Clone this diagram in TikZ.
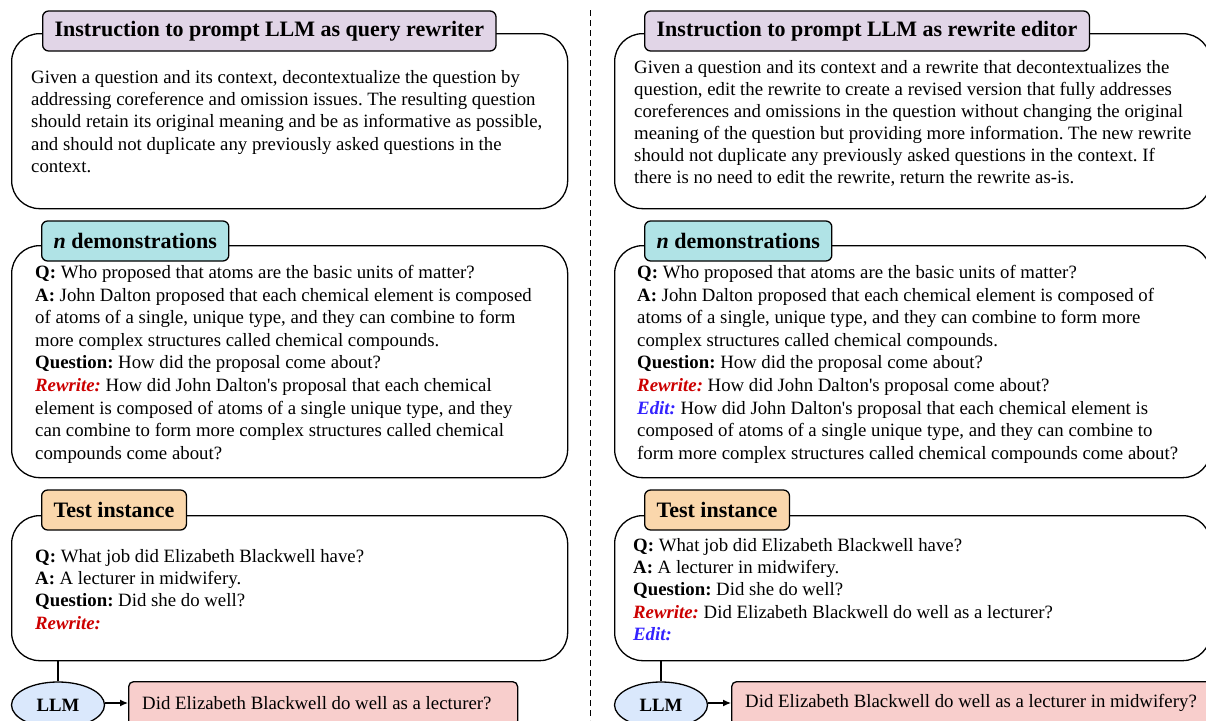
\documentclass[tikz,border=0pt]{standalone}
\usepackage{fontspec}
\setmainfont{Liberation Serif}
\usetikzlibrary{arrows.meta,shapes.geometric}
\definecolor{tablav}{HTML}{E1D5E7}
\definecolor{tabteal}{HTML}{B0E3E6}
\definecolor{taborange}{HTML}{FAD7AC}
\definecolor{llmblue}{HTML}{DAE8FC}
\definecolor{outpink}{HTML}{F8CECC}
\definecolor{rwred}{HTML}{CC0000}
\definecolor{edblue}{HTML}{3322FF}
\newcommand{\rw}{\textcolor{rwred}{\textbf{\textit{Rewrite:}}}}
\newcommand{\ed}{\textcolor{edblue}{\textbf{\textit{Edit:}}}}
\newcommand{\ap}{\textquotesingle}
\frenchspacing
\tikzset{
  panel/.style={draw, line width=1.3pt, rounded corners=28pt, inner sep=0pt, anchor=north west, fill=white},
  tab/.style={draw, line width=1.3pt, rounded corners=6pt, font=\fontsize{22}{26}\selectfont\bfseries, minimum height=40pt, inner xsep=12pt, anchor=west},
  body/.style={anchor=north west, inner sep=0pt, align=left, font=\fontsize{18.8}{22.3}\selectfont},
  bodywide/.style={body, font=\fontsize{18.8}{22.6}\selectfont},
  bodytight/.style={body, font=\fontsize{18.8}{22}\selectfont},
  llm/.style={ellipse, draw, line width=1.3pt, fill=llmblue, minimum width=93pt, minimum height=46pt, inner sep=0pt, font=\fontsize{18.8}{22}\selectfont\bfseries},
  outbox/.style={draw, line width=1.3pt, rounded corners=5pt, fill=outpink, anchor=north west, inner sep=0pt},
  outtext/.style={anchor=west, inner sep=0pt, font=\fontsize{18.8}{22}\selectfont},
  conn/.style={line width=1.3pt},
}
\begin{document}
\begin{tikzpicture}[x=1pt,y=-1pt]
\clip (0,0) rectangle (1206,720);
\fill[white] (0,0) rectangle (1206,720);
% divider
\coordinate (dtop) at (590,10);
\coordinate (dbot) at (590,720);
\draw[line width=1pt, dash pattern=on 6pt off 4pt] (dtop) -- (dbot);

% ===== LEFT =====
\node[panel, minimum width=556pt, minimum height=175pt] (L1) at (11,33) {};
\node[tab, fill=tablav] (L1t) at (42,31) {Instruction to prompt LLM as query rewriter};
\node[body] (L1b) at (31,70) {Given a question and its context, decontextualize the question by\\
addressing coreference and omission issues. The resulting question\\
should retain its original meaning and be as informative as possible,\\
and should not duplicate any previously asked questions in the\\
context.};

\node[panel, minimum width=556pt, minimum height=232pt] (L2) at (11,245) {};
\node[tab, fill=tabteal] (L2t) at (41,241) {\textit{n} demonstrations};
\node[bodywide] (L2b) at (35,265) {\textbf{Q:} Who proposed that atoms are the basic units of matter?\\
\textbf{A:} John Dalton proposed that each chemical element is composed\\
of atoms of a single, unique type, and they can combine to form\\
more complex structures called chemical compounds.\\
\textbf{Question:} How did the proposal come about?\\
\rw{} How did John Dalton\ap s proposal that each chemical\\
element is composed of atoms of a single unique type, and they\\
can combine to form more complex structures called chemical\\
compounds come about?};

\node[panel, minimum width=556pt, minimum height=145pt] (L3) at (11,515) {};
\node[tab, fill=taborange] (L3t) at (41,510) {Test instance};
\node[body] (L3b) at (35,549) {\textbf{Q:} What job did Elizabeth Blackwell have?\\
\textbf{A:} A lecturer in midwifery.\\
\textbf{Question:} Did she do well?\\
\rw{}};

\node[llm] (Lllm) at (58,705) {LLM};
\node[outbox, minimum width=389pt, minimum height=44pt] (Lout) at (128,681) {};
\node[outtext] (Louttext) at (142,703) {Did Elizabeth Blackwell do well as a lecturer?};
\draw[conn] (L3.south -| Lllm.north) -- (Lllm.north);
\draw[conn, -{Latex[length=8pt,width=7pt]}] (Lllm.east |- Louttext.west) -- (Lout.west |- Louttext.west);

% ===== RIGHT =====
\node[panel, minimum width=596pt, minimum height=175pt] (R1) at (614,33) {};
\node[tab, fill=tablav] (R1t) at (644,31) {Instruction to prompt LLM as rewrite editor};
\node[bodytight] (R1b) at (634,60) {Given a question and its context and a rewrite that decontextualizes the\\
question, edit the rewrite to create a revised version that fully addresses\\
coreferences and omissions in the question without changing the original\\
meaning of the question but providing more information. The new rewrite\\
should not duplicate any previously asked questions in the context. If\\
there is no need to edit the rewrite, return the rewrite as-is.};

\node[panel, minimum width=596pt, minimum height=232pt] (R2) at (614,245) {};
\node[tab, fill=tabteal] (R2t) at (644,241) {\textit{n} demonstrations};
\node[bodywide] (R2b) at (637,265) {\textbf{Q:} Who proposed that atoms are the basic units of matter?\\
\textbf{A:} John Dalton proposed that each chemical element is composed of\\
atoms of a single, unique type, and they can combine to form more\\
complex structures called chemical compounds.\\
\textbf{Question:} How did the proposal come about?\\
\rw{} How did John Dalton\ap s proposal come about?\\
\ed{} How did John Dalton\ap s proposal that each chemical element is\\
composed of atoms of a single unique type, and they can combine to\\
form more complex structures called chemical compounds come about?};

\node[panel, minimum width=596pt, minimum height=145pt] (R3) at (614,515) {};
\node[tab, fill=taborange] (R3t) at (644,510) {Test instance};
\node[body] (R3b) at (633,538) {\textbf{Q:} What job did Elizabeth Blackwell have?\\
\textbf{A:} A lecturer in midwifery.\\
\textbf{Question:} Did she do well?\\
\rw{} Did Elizabeth Blackwell do well as a lecturer?\\
\ed{}};

\node[llm] (Rllm) at (661,705) {LLM};
\node[outbox, minimum width=480pt, minimum height=44pt] (Rout) at (731,681) {};
\node[outtext] (Routtext) at (745,703) {Did Elizabeth Blackwell do well as a lecturer in midwifery?};
\draw[conn] (R3.south -| Rllm.north) -- (Rllm.north);
\draw[conn, -{Latex[length=8pt,width=7pt]}] (Rllm.east |- Routtext.west) -- (Rout.west |- Routtext.west);
\end{tikzpicture}
\end{document}
